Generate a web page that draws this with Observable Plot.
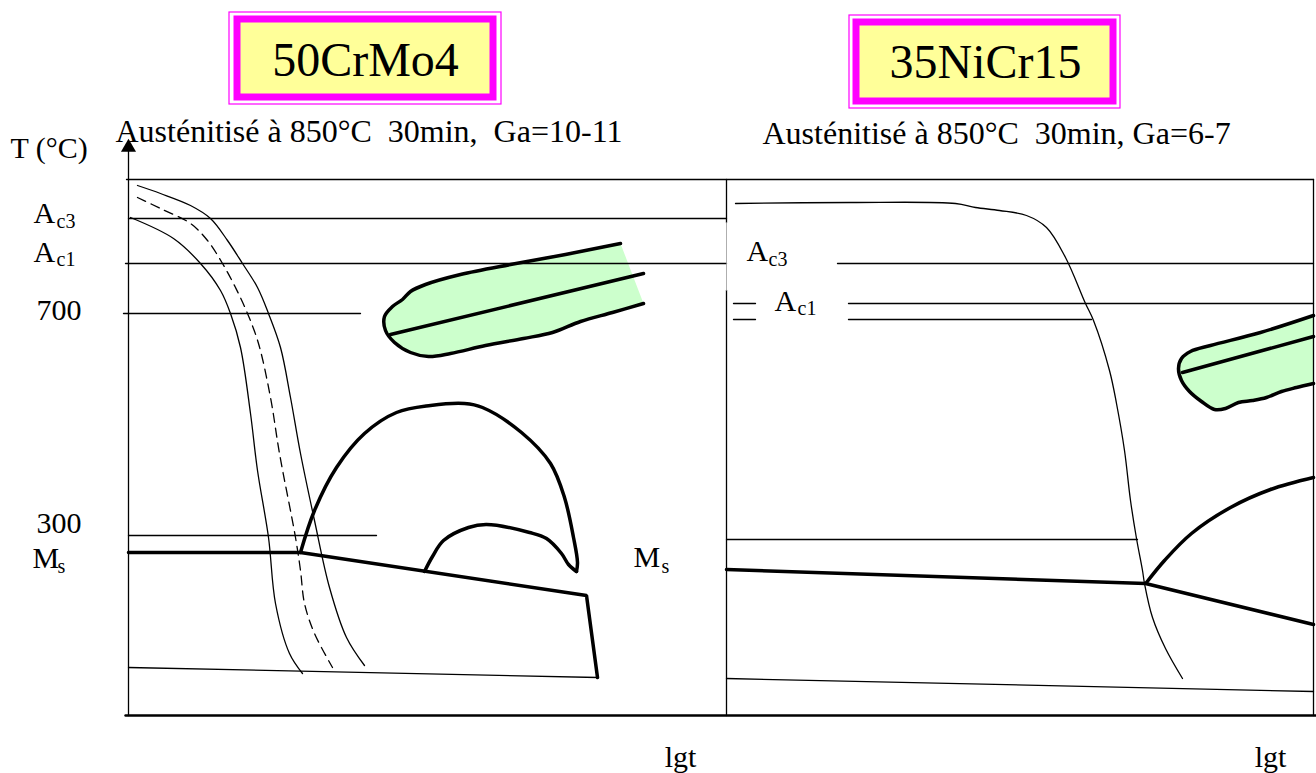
<!DOCTYPE html>
<html><head><meta charset="utf-8">
<script src="https://cdn.jsdelivr.net/npm/d3@7"></script>
<script src="https://cdn.jsdelivr.net/npm/@observablehq/plot@0.6"></script>
<style>body{margin:0;background:#fff}#chart svg{display:block}</style>
</head><body><div id="chart"></div>
<script>
// ---- data (schematic drawing units: x = lgt, y = temperature position, downward) ----
const steelNames = ["50CrMo4", "35NiCr15"];
const subtitles = ["Austénitisé à 850°C\u00a0 30min,\u00a0 Ga=10-11", "Austénitisé à 850°C\u00a0 30min, Ga=6-7"];
const titleOuter = [[229, 501, 12, 104], [849, 1120, 15, 108]];
const titleInner = [[237, 493, 19, 97], [856, 1113, 22, 101]];
const titleCenter = [[365, 60], [985, 62]];
const subtitleStart = [[115, 131], [762, 133]];

// frame and isotherm lines (thin, straight)
const thinLines = [
  [[126, 179], [1313, 179]],          // top frame
  [[128, 218], [726, 218]],           // Ac3 (left)
  [[125, 263], [726, 263]],           // Ac1 (left)
  [[123, 313], [360, 313]],           // 700
  [[128, 535], [376, 535]],           // 300 (left)
  [[128, 667], [597, 677]],           // martensite end (left)
  [[726, 179], [726, 222]],           // divider
  [[726, 290], [726, 715]],
  [[1313, 179], [1313, 715]],         // right frame
  [[837, 263], [1313, 263]],          // Ac3 (right)
  [[733, 303], [755, 303]], [[848, 303], [1313, 303]],   // Ac1 (right)
  [[733, 319], [755, 319]], [[848, 319], [1091, 319]],
  [[726, 539], [1137, 539]],          // 300 (right)
  [[726, 678], [1313, 691]],          // martensite end (right)
  [[128, 715], [128, 150]]            // T axis
];
const baseAxis = [[125, 715], [1316, 715]];
const ghostDivider = [[726, 222], [726, 290]];

// Ms lines (thick, straight)
const msLines = [
  [[128, 552], [300, 552], [586, 595], [597, 677]],
  [[726, 569], [1145, 583], [1313, 624]]
];

// cooling-start curves (left) and right curve
const coolLeft1 = [[130,217],[173,238],[200,263],[220,290],[230,313],[240,347],[250,413],[257,470],[268,537],[275,603],[289,653],[302,673]];
const coolLeftDash = [[137,197],[160,208],[190,223],[207,240],[222,263],[235,287],[247,313],[258,343],[270,397],[279,453],[295,537],[300,570],[304,603],[314,633],[332,667]];
const coolLeft2 = [[137,185],[160,193],[190,205],[210,218],[227,240],[242,263],[257,287],[268,313],[280,347],[290,397],[300,453],[314,520],[329,587],[346,637],[364,665]];
const coolRight = [[735,203],[850,202],[955,203],[975,207],[999,210],[1026,215],[1046,227],[1065,257],[1085,303],[1093,320],[1109,370],[1116,403],[1124,450],[1130,500],[1136,538],[1142,570],[1144,583],[1152,617],[1165,648],[1182,678]];

// bainite noses (thick curves)
const noseBig = [[300,552],[314,510],[336,467],[364,433],[396,412],[430,405],[464,403],[482,407],[521,432],[550,463],[564,497],[573,537],[577,562],[576,571]];
const noseSmall = [[576,571],[568,564],[561,553],[546,538],[529,532],[486,524],[468,527],[443,540],[432,556],[424,571]];
const noseRight = [[1146,582],[1164,560],[1191,533],[1230,507],[1270,489],[1313,477]];

// pearlite / ferrite domains (green)
const blobLeft = [[620,243],[565,254],[510,264],[460,274],[425,284],[410,291],[402,299],[392,306],[384,316],[385,330],[394,342],[410,352],[428,356],[450,353],[485,345],[523,338],[552,332],[580,321],[612,312],[643,303]];
const blobLeftMid = [[390,334],[643,273]];
const blobRight = [[1313,315],[1260,332],[1210,345],[1190,351],[1181,358],[1178,368],[1181,380],[1189,391],[1201,401],[1214,409],[1225,408],[1238,402],[1252,400],[1266,397],[1281,391],[1296,387],[1313,383]];
const blobRightMid = [[1182,372],[1313,336]];

// labels
const bigLabels = [
  {t:"T (°C)", x:10, y:148}, {t:"700", x:36, y:310}, {t:"300", x:36, y:523},
  {t:"A", x:33, y:213}, {t:"A", x:33, y:252}, {t:"M", x:32, y:558},
  {t:"M", x:633, y:557}, {t:"A", x:746, y:251}, {t:"A", x:774, y:301}
];
const subLabels = [
  {t:"c3", x:56, y:221}, {t:"c1", x:56, y:259}, {t:"s", x:57, y:566},
  {t:"s", x:661, y:566}, {t:"c3", x:768, y:259}, {t:"c1", x:797, y:308}
];
const axisLabels = [{t:"lgt", x:680, y:757}, {t:"lgt", x:1270, y:757}];

// ---- build ----
const rows = segs => segs.flatMap((s, i) => s.map(([x, y]) => ({x, y, z: i})));
const pts = s => s.map(([x, y]) => ({x, y}));
const font = "Liberation Serif, Times New Roman, serif";
const boxes = titleOuter.map((o, i) => ({o, n: titleInner[i], name: steelNames[i], c: titleCenter[i], s: subtitles[i], ss: subtitleStart[i]}));

const plot = Plot.plot({
  width: 1316, height: 773, margin: 0,
  x: {domain: [0, 1316], range: [0, 1316], axis: null},
  y: {domain: [0, 773], range: [0, 773], axis: null},
  style: {background: "#fff", overflow: "visible"},
  marks: [
    // title boxes
    Plot.rect(boxes, {x1: d => d.o[0], x2: d => d.o[1], y1: d => d.o[2], y2: d => d.o[3], fill: "#fff", stroke: "#ff00ff", strokeWidth: 1.2}),
    Plot.rect(boxes, {x1: d => d.n[0], x2: d => d.n[1], y1: d => d.n[2], y2: d => d.n[3], fill: "#ffff99", stroke: "#ff00ff", strokeWidth: 7}),
    Plot.text(boxes, {x: d => d.c[0], y: d => d.c[1], text: "name", fontFamily: font, fontSize: 48, fill: "#000"}),
    Plot.text(boxes, {x: d => d.ss[0], y: d => d.ss[1], text: "s", textAnchor: "start", fontFamily: font, fontSize: 32, fill: "#000"}),
    // green domains
    Plot.line(pts(blobLeft), {x: "x", y: "y", curve: "catmull-rom", fill: "#ccffcc", stroke: "none"}),
    Plot.line(pts(blobRight), {x: "x", y: "y", curve: "catmull-rom", fill: "#ccffcc", stroke: "none"}),
    // thin lines
    Plot.line(rows(thinLines), {x: "x", y: "y", z: "z", stroke: "#000", strokeWidth: 1.3}),
    Plot.line(pts(ghostDivider), {x: "x", y: "y", stroke: "#999", strokeWidth: 0.8}),
    Plot.line(pts(baseAxis), {x: "x", y: "y", stroke: "#000", strokeWidth: 2.4}),
    Plot.dot([{x: 128, y: 147}], {x: "x", y: "y", symbol: "triangle", r: 5.6, fill: "#000", stroke: "none"}),
    // cooling curves
    Plot.line(rows([coolLeft1, coolLeft2, coolRight]), {x: "x", y: "y", z: "z", curve: "catmull-rom", stroke: "#000", strokeWidth: 1.3}),
    Plot.line(pts(coolLeftDash), {x: "x", y: "y", curve: "catmull-rom", stroke: "#000", strokeWidth: 1.3, strokeDasharray: "9,6"}),
    // thick features
    Plot.line(rows(msLines), {x: "x", y: "y", z: "z", stroke: "#000", strokeWidth: 3.5, strokeLinejoin: "miter"}),
    Plot.line(rows([noseBig, noseSmall, noseRight]), {x: "x", y: "y", z: "z", curve: "catmull-rom", stroke: "#000", strokeWidth: 3.5}),
    Plot.line(rows([blobLeft, blobRight]), {x: "x", y: "y", z: "z", curve: "catmull-rom", stroke: "#000", strokeWidth: 3.5}),
    Plot.line(rows([blobLeftMid, blobRightMid]), {x: "x", y: "y", z: "z", stroke: "#000", strokeWidth: 3.5}),
    // labels
    Plot.text(bigLabels, {x: "x", y: "y", text: "t", textAnchor: "start", fontFamily: font, fontSize: 30, fill: "#000"}),
    Plot.text(subLabels, {x: "x", y: "y", text: "t", textAnchor: "start", fontFamily: font, fontSize: 20, fill: "#000"}),
    Plot.text(axisLabels, {x: "x", y: "y", text: "t", fontFamily: font, fontSize: 30, fill: "#000"})
  ]
});
document.getElementById("chart").append(plot);
</script></body></html>
